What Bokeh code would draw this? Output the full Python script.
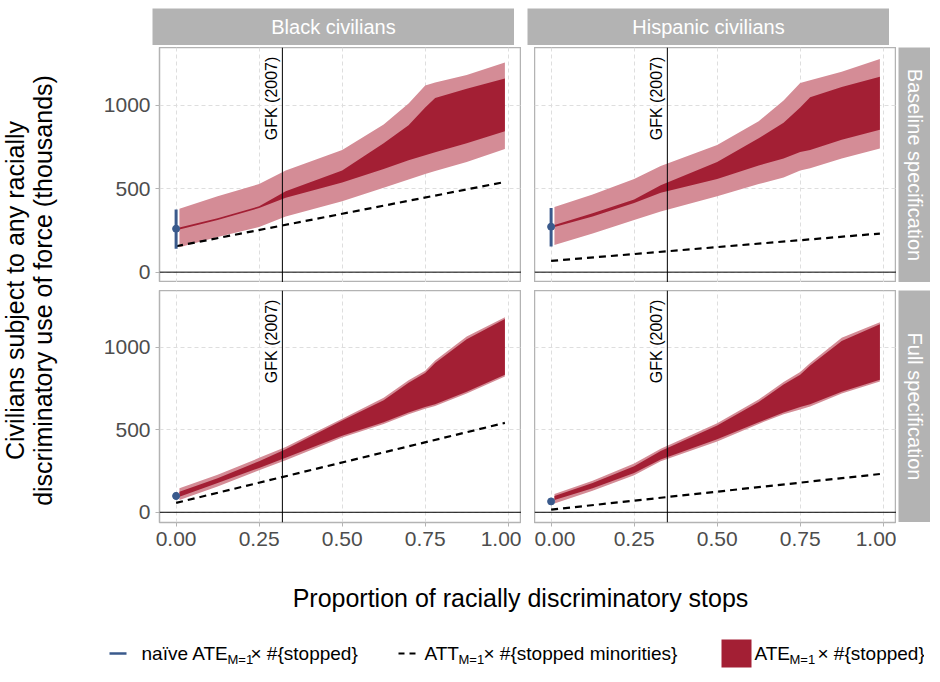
import numpy as np
from bokeh.plotting import figure
from bokeh.layouts import row, column
from bokeh.models import Spacer, Span, FixedTicker
from bokeh.core.properties import value
from bokeh.embed import file_html
from bokeh.resources import INLINE

FONT = "Liberation Sans"
DARK = "#a31f34"
LIGHT = "#d48c96"
BLUE = "#3a5a8c"
STRIP = "#b3b3b3"

# values (thousands)
xs = [0.01, 0.125, 0.25, 0.33, 0.5, 0.625, 0.7, 0.75, 0.78, 0.875, 0.99]

tl_light_hi = [380, 455, 527, 608, 731, 884, 1010, 1118, 1135, 1180, 1255]
tl_dark_hi = [268, 322, 394, 485, 608, 771, 880, 986, 1043, 1098, 1159]
tl_dark_lo = [255, 312, 384, 445, 537, 618, 670, 700, 718, 771, 843]
tl_light_lo = [149, 210, 271, 333, 425, 506, 555, 588, 606, 659, 737]

tr_light_hi = [390, 465, 557, 635, 761, 904, 1027, 1133, 1149, 1200, 1276]
tr_dark_hi = [282, 353, 435, 520, 659, 802, 894, 986, 1047, 1108, 1170]
tr_dark_lo = [271, 333, 414, 476, 557, 639, 680, 720, 731, 792, 853]
tr_light_lo = [163, 231, 312, 363, 455, 527, 567, 608, 622, 680, 741]

bl_light_hi = [146, 228, 330, 396, 567, 694, 800, 858, 920, 1066, 1183]
bl_dark_hi = [125, 207, 310, 382, 556, 680, 786, 844, 905, 1049, 1172]
bl_dark_lo = [94, 177, 269, 330, 464, 546, 605, 638, 655, 731, 834]
bl_light_lo = [74, 156, 255, 316, 454, 536, 595, 628, 645, 721, 823]

br_light_hi = [111, 191, 296, 386, 540, 684, 790, 850, 905, 1059, 1152]
br_dark_hi = [99, 177, 279, 372, 526, 669, 775, 834, 890, 1039, 1141]
br_dark_lo = [74, 146, 238, 320, 443, 546, 605, 638, 655, 731, 803]
br_light_lo = [53, 131, 224, 310, 429, 536, 595, 624, 641, 721, 793]

dash_x = [0.0, 0.99]
tl_dash = [155, 540]
tr_dash = [67, 231]
bl_dash = [57, 542]
br_dash = [16, 232]

naive = {"tl": (260, 140, 375), "tr": (272, 153, 384), "bl": (99, 78, 122), "br": (66, 54, 80)}
gfk = {"black": 0.32, "hispanic": 0.35}

col_labels = ["Black civilians", "Hispanic civilians"]
row_labels = ["Baseline specification", "Full specification"]
x_ticks = [0, 0.25, 0.5, 0.75, 1.0]
x_tick_labels = ["0.00", "0.25", "0.50", "0.75", "1.00"]
y_ticks = [0, 500, 1000]


def panel(lhi, dhi, dlo, llo, dash, nv, g, show_x, show_y, fh):
    p = figure(frame_width=362, frame_height=fh, x_range=(-0.05, 1.04), y_range=(-62, 1345),
               output_backend="svg", toolbar_location=None,
               x_axis_location="below" if show_x else None,
               y_axis_location="left" if show_y else None,
               min_border_left=52 if show_y else 0, min_border_right=0,
               min_border_top=0, min_border_bottom=0)
    p.outline_line_color = STRIP
    p.outline_line_width = 1.5
    p.xgrid.ticker = FixedTicker(ticks=x_ticks)
    p.ygrid.ticker = FixedTicker(ticks=y_ticks)
    p.grid.grid_line_color = "#dedede"
    p.grid.grid_line_dash = "4 3"
    if show_x:
        p.xaxis.ticker = FixedTicker(ticks=x_ticks)
        p.xaxis.major_label_overrides = {t: l for t, l in zip(x_ticks, x_tick_labels)}
    if show_y:
        p.yaxis.ticker = FixedTicker(ticks=y_ticks)
    for ax in p.axis:
        ax.axis_line_color = None
        ax.major_tick_line_color = STRIP
        ax.major_tick_in = 0
        ax.major_tick_out = 4
        ax.minor_tick_line_color = None
        ax.major_label_text_font = FONT
        ax.major_label_text_font_size = "21px"
        ax.major_label_text_color = "#4d4d4d"
        ax.major_label_standoff = 5
    p.varea(x=xs, y1=llo, y2=lhi, fill_color=LIGHT)
    p.varea(x=xs, y1=dlo, y2=dhi, fill_color=DARK)
    p.line(x=dash_x, y=dash, line_color="black", line_width=2.2, line_dash="7 5")
    p.segment(x0=[0], y0=[nv[1]], x1=[0], y1=[nv[2]], line_color=BLUE, line_width=3)
    p.scatter(x=[0], y=[nv[0]], size=7, color=BLUE)
    p.add_layout(Span(location=0, dimension="width", line_color="black", line_width=1))
    p.add_layout(Span(location=g, dimension="height", line_color="black", line_width=1))
    p.text(x=[g], y=[1290], text=["GFK (2007)"], angle=np.pi / 2, text_align="right",
           text_baseline="bottom", x_offset=-2, text_font=value(FONT),
           text_font_size="16px", text_color="black")
    return p


def strip(label, w, h, vertical=False):
    s = figure(width=w, height=h, x_range=(0, 1), y_range=(0, 1), output_backend="svg",
               toolbar_location=None, x_axis_location=None, y_axis_location=None,
               min_border=0)
    s.background_fill_color = STRIP
    s.border_fill_color = STRIP
    s.outline_line_color = None
    s.grid.visible = False
    s.text(x=[0.5], y=[0.5], text=[label], angle=-np.pi / 2 if vertical else 0,
           text_align="center", text_baseline="middle", text_font=value(FONT),
           text_font_size="20px", text_color="white")
    return s


def blank(w, h, xr, yr):
    b = figure(width=w, height=h, x_range=xr, y_range=yr, output_backend="svg",
               toolbar_location=None, x_axis_location=None, y_axis_location=None,
               min_border=0)
    b.outline_line_color = None
    b.grid.visible = False
    return b


tl = panel(tl_light_hi, tl_dark_hi, tl_dark_lo, tl_light_lo, tl_dash, naive["tl"], gfk["black"], False, True, 235)
tr = panel(tr_light_hi, tr_dark_hi, tr_dark_lo, tr_light_lo, tr_dash, naive["tr"], gfk["hispanic"], False, False, 235)
bl = panel(bl_light_hi, bl_dark_hi, bl_dark_lo, bl_light_lo, bl_dash, naive["bl"], gfk["black"], True, True, 232)
br = panel(br_light_hi, br_dark_hi, br_dark_lo, br_light_lo, br_dash, naive["br"], gfk["hispanic"], True, False, 232)

top_strips = row(Spacer(width=152), strip(col_labels[0], 362, 37), Spacer(width=13),
                 strip(col_labels[1], 362, 37))
top_row = row(tl, Spacer(width=13), tr, Spacer(width=2), strip(row_labels[0], 32, 235, True))
bot_row = row(bl, Spacer(width=13), br, Spacer(width=2), column(strip(row_labels[1], 32, 232, True)))

ylab = blank(100, 508, (0, 100), (0, 508))
ylab.text(x=[14, 42], y=[265, 265],
          text=["Civilians subject to any racially", "discriminatory use of force (thousands)"],
          angle=np.pi / 2, text_align="center", text_baseline="middle",
          text_font=value(FONT), text_font_size="25px", text_color="black")

xlab = blank(924, 68, (0, 924), (0, 68))
xlab.text(x=[520], y=[26], text=["Proportion of racially discriminatory stops"],
          text_align="center", text_baseline="middle", text_font=value(FONT),
          text_font_size="25px", text_color="black")

leg = blank(924, 46, (0, 924), (0, 46))
ly = 16
leg.line(x=[109, 126], y=[ly, ly], line_color=BLUE, line_width=2.5)
leg.line(x=[398, 418], y=[ly, ly], line_color="black", line_width=2.2, line_dash="6 5")
leg.quad(left=[721], right=[751], bottom=[ly - 14], top=[ly + 14], fill_color=DARK, line_color=None)
main_txt = ["naïve ATE", "× #{stopped}", "ATT", "× #{stopped minorities}", "ATE", "× #{stopped}"]
main_x = [141, 250, 424, 483, 754, 817]
leg.text(x=main_x, y=[ly] * 6, text=main_txt, text_baseline="middle",
         text_font=value(FONT), text_font_size="19px", text_color="black")
leg.text(x=[227, 458, 789], y=[ly - 6] * 3, text=["M=1"] * 3, text_baseline="middle",
         text_font=value(FONT), text_font_size="13px", text_color="black")

layout = column(Spacer(height=8), top_strips, Spacer(height=2),
                row(ylab, column(top_row, Spacer(height=8), bot_row)),
                xlab, leg)

open("out.html", "w").write(file_html(layout, INLINE))
